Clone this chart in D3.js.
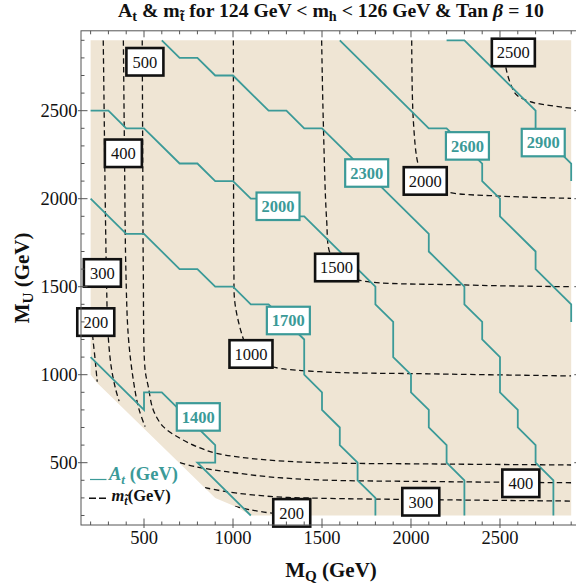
<!DOCTYPE html>
<html><head><meta charset="utf-8">
<script src="https://cdn.jsdelivr.net/npm/d3@7"></script>
<style>body{margin:0;background:#fff} svg{display:block}</style>
</head><body>
<svg id="c" width="576" height="583"></svg>
<script>
// ---------- data ----------
const xDomain = [146, 2954];
const yDomain = [146, 2954];
const majorTicks = [500, 1000, 1500, 2000, 2500];
const minorTicks = d3.range(200, 3000, 100);

// allowed (shaded) parameter region
const regionBoundary = [[200,2900],[2900,2900],[2900,200],[1100,200],[1020,248],[900,300],[240,950],[200,1000]];

// A_t contours (GeV)
const atLevels = [1400, 1700, 2000, 2300, 2600, 2900];
const atContours = [
  [[200,1100],[500,800],[500,900],[600,900],[900,600],[900,500],[800,500],[1100,200]],
  [[200,2000],[400,1800],[500,1800],[700,1600],[800,1600],[900,1500],[1000,1500],[1100,1400],[1200,1400],[1400,1200],[1400,1000],[1500,900],[1500,800],[1600,700],[1600,600],[1700,500],[1700,400],[1800,300],[1800,200]],
  [[200,2500],[300,2500],[400,2400],[500,2400],[700,2200],[800,2200],[900,2100],[1000,2100],[1100,2000],[1200,2000],[1300,1900],[1400,1900],[1800,1500],[1800,1400],[1900,1300],[1900,1100],[2000,1000],[2000,900],[2100,800],[2100,700],[2200,600],[2200,500],[2300,400],[2300,200]],
  [[600,2900],[700,2800],[800,2800],[900,2700],[1000,2700],[1200,2500],[1300,2500],[1400,2400],[1500,2400],[2100,1800],[2100,1700],[2200,1600],[2300,1500],[2300,1400],[2400,1300],[2400,1200],[2500,1100],[2500,900],[2600,800],[2600,700],[2700,600],[2700,500],[2800,400],[2800,200]],
  [[1600,2900],[2100,2400],[2200,2400],[2400,2200],[2400,2100],[2500,2000],[2500,1900],[2700,1700],[2700,1600],[2900,1400],[2900,1300]],
  [[2200,2900],[2300,2900],[2700,2500],[2700,2400],[2900,2200],[2900,2100]]
];
const atLabelPos = [[805,760],[1311,1308],[1253,1957],[1751,2146],[2317,2300],[2743,2319]];

// stop-mass contours (GeV); each level may have several pieces
const mLevels = [200, 300, 400, 500, 1000, 1500, 2000, 2500];
const mContours = [
  [[[205,1330],[212,1216],[225,1090],[237,960]], [[1010,252],[1100,232],[1230,212],[1400,204]]],
  [[[271,2900],[276,2500],[282,2000],[290,1500],[297,1250],[315,1050],[340,920],[360,850]], [[843,358],[965,335],[1227,307],[1489,298],[2100,290],[2900,282]]],
  [[[384,2900],[390,2300],[398,1600],[412,1216],[440,970],[470,810],[506,705]], [[702,500],[800,475],[965,449],[1200,420],[1489,402],[2100,393],[2900,386]]],
  [[[490,2900],[493,2200],[496,1600],[506,1030],[524,932],[552,800],[608,705],[702,639],[800,590],[908,553],[1152,519],[1489,500],[2100,493],[2900,487]]],
  [[[1002,2900],[1003,2200],[1005,1600],[1011,1406],[1054,1216],[1090,1130],[1150,1080],[1221,1045],[1489,1017],[2100,1005],[2900,993]]],
  [[[1498,2900],[1507,2450],[1526,1880],[1545,1690],[1620,1580],[1704,1538],[2294,1510],[2900,1500]]],
  [[[2004,2900],[2013,2447],[2041,2191],[2080,2101],[2200,2040],[2500,2015],[2900,2002]]],
  [[[2520,2900],[2534,2741],[2566,2636],[2594,2589],[2669,2551],[2900,2514]]]
];
const mLabels = [
  ['500',505,2778],['400',384,2258],['300',266,1578],['200',229,1299],['200',1330,215],
  ['300',2055,278],['400',2617,383],['1000',1101,1118],['1500',1582,1609],['2000',2080,2101],['2500',2575,2831]
];

// ---------- drawing ----------
const TEAL = '#3b9a98', BEIGE = '#efe5d4', FRAME = '#555';
const FONT = '"Liberation Serif", "Times New Roman", serif';
const svg = d3.select('#c');
const x = d3.scaleLinear().domain(xDomain).range([81, 580.8]);
const y = d3.scaleLinear().domain(yDomain).range([525, 30.8]);
const lin = d3.line().x(d => x(d[0])).y(d => y(d[1]));
const smooth = d3.line().x(d => x(d[0])).y(d => y(d[1])).curve(d3.curveCatmullRom.alpha(0.5));

svg.append('defs').append('clipPath').attr('id', 'reg')
  .append('path').attr('d', lin(regionBoundary) + 'Z');

svg.append('path').attr('d', lin(regionBoundary) + 'Z').attr('fill', BEIGE);

// stop-mass dashed contours
const mg = svg.append('g').attr('clip-path', 'url(#reg)');
mContours.forEach(pieces => pieces.forEach(p => {
  mg.append('path').attr('d', smooth(p)).attr('fill', 'none')
    .attr('stroke', '#111').attr('stroke-width', 1.3).attr('stroke-dasharray', '5.5,3.5');
}));

// A_t contours
atContours.forEach(p => {
  svg.append('path').attr('d', lin(p)).attr('fill', 'none')
    .attr('stroke', TEAL).attr('stroke-width', 1.8).attr('stroke-linejoin', 'miter');
});

// labels
function boxLabel(txt, gx, gy, color, bold, sw) {
  const cx = x(gx), cy = y(gy);
  const w = 19 + 6 * txt.length, h = 27.5;
  svg.append('rect').attr('x', cx - w/2).attr('y', cy - h/2).attr('width', w).attr('height', h)
    .attr('fill', '#fff').attr('stroke', color).attr('stroke-width', sw);
  svg.append('text').attr('x', cx).attr('y', cy + 5.8).attr('text-anchor', 'middle')
    .attr('font-family', FONT).attr('font-size', bold ? 16.5 : 16.5)
    .attr('font-weight', bold ? 'bold' : 'normal').attr('fill', bold ? TEAL : '#111').text(txt);
}
mLabels.forEach(l => boxLabel(l[0], l[1], l[2], '#111', false, 2.6));
atLevels.forEach((lv, i) => boxLabel(String(lv), atLabelPos[i][0], atLabelPos[i][1], TEAL, true, 2.2));

// frame + ticks
const [x0, x1] = x.range(), [y0, y1] = y.range();
svg.append('rect').attr('x', x0).attr('y', y1).attr('width', x1 - x0).attr('height', y0 - y1)
  .attr('fill', 'none').attr('stroke', FRAME).attr('stroke-width', 1);
const tg = svg.append('g').attr('stroke', FRAME).attr('stroke-width', 1);
function ticks(vals, len) {
  vals.forEach(v => {
    tg.append('line').attr('x1', x(v)).attr('x2', x(v)).attr('y1', y0).attr('y2', y0 - len);
    tg.append('line').attr('x1', x(v)).attr('x2', x(v)).attr('y1', y1).attr('y2', y1 + len);
    tg.append('line').attr('y1', y(v)).attr('y2', y(v)).attr('x1', x0).attr('x2', x0 + len);
    tg.append('line').attr('y1', y(v)).attr('y2', y(v)).attr('x1', x1).attr('x2', x1 - len);
  });
}
ticks(minorTicks.filter(v => !majorTicks.includes(v)), 3.5);
ticks(majorTicks, 6.5);
majorTicks.forEach(v => {
  tg.append('line').attr('x1', x(v)).attr('x2', x(v)).attr('y1', y0).attr('y2', y0 + 3);
  tg.append('line').attr('y1', y(v)).attr('y2', y(v)).attr('x1', x0).attr('x2', x0 - 3);
});
majorTicks.forEach(v => {
  svg.append('text').attr('x', x(v)).attr('y', y0 + 18.5).attr('text-anchor', 'middle')
    .attr('font-family', FONT).attr('font-size', 18.5).attr('fill', '#111').text(v);
  svg.append('text').attr('x', x0 - 3.5).attr('y', y(v) + 6).attr('text-anchor', 'end')
    .attr('font-family', FONT).attr('font-size', 18.5).attr('fill', '#111').text(v);
});

// rich text helper
function rich(sel, parts, subShift) {
  let shifted = 0;
  parts.forEach(p => {
    const ts = sel.append('tspan').text(p.t);
    const target = p.sub ? subShift : 0;
    if (target !== shifted) { ts.attr('dy', target - shifted); shifted = target; }
    if (p.sub) ts.attr('font-size', '72%');
    if (p.it) ts.attr('font-style', 'italic');
  });
  return sel;
}

// title
rich(svg.append('text').attr('x', 331).attr('y', 17).attr('text-anchor', 'middle')
  .attr('font-family', FONT).attr('font-weight', 'bold').attr('font-size', 19.7).attr('fill', '#111'),
  [{t:'A'},{t:'t',sub:true},{t:' & m'},{t:'t\u0303',sub:true},{t:' for 124 GeV < m'},{t:'h',sub:true},
   {t:' < 126 GeV & Tan '},{t:'\u03B2',it:true},{t:' = 10'}], 4);

// axis titles
rich(svg.append('text').attr('x', 331).attr('y', 577).attr('text-anchor', 'middle')
  .attr('font-family', FONT).attr('font-weight', 'bold').attr('font-size', 21).attr('fill', '#111'),
  [{t:'M'},{t:'Q',sub:true},{t:' (GeV)'}], 4);
rich(svg.append('text').attr('transform', `translate(29,${(y0 + y1) / 2}) rotate(-90)`).attr('text-anchor', 'middle')
  .attr('font-family', FONT).attr('font-weight', 'bold').attr('font-size', 21).attr('fill', '#111'),
  [{t:'M'},{t:'U',sub:true},{t:' (GeV)'}], 4);

// legend
svg.append('line').attr('x1', 90).attr('x2', 106.5).attr('y1', 479.5).attr('y2', 479.5)
  .attr('stroke', TEAL).attr('stroke-width', 1.2);
rich(svg.append('text').attr('x', 109).attr('y', 480).attr('font-family', FONT)
  .attr('font-weight', 'bold').attr('font-size', 18.5).attr('fill', TEAL),
  [{t:'A',it:true},{t:'t',sub:true,it:true},{t:' (GeV)'}], 4);
svg.append('line').attr('x1', 89).attr('x2', 107).attr('y1', 498.3).attr('y2', 498.3)
  .attr('stroke', '#111').attr('stroke-width', 1.4).attr('stroke-dasharray', '7,3');
rich(svg.append('text').attr('x', 111.5).attr('y', 501).attr('font-family', FONT)
  .attr('font-weight', 'bold').attr('font-size', 16.5).attr('fill', '#111'),
  [{t:'m',it:true},{t:'t\u0303',sub:true,it:true},{t:'(GeV)'}], 3.5);
</script>
</body></html>
